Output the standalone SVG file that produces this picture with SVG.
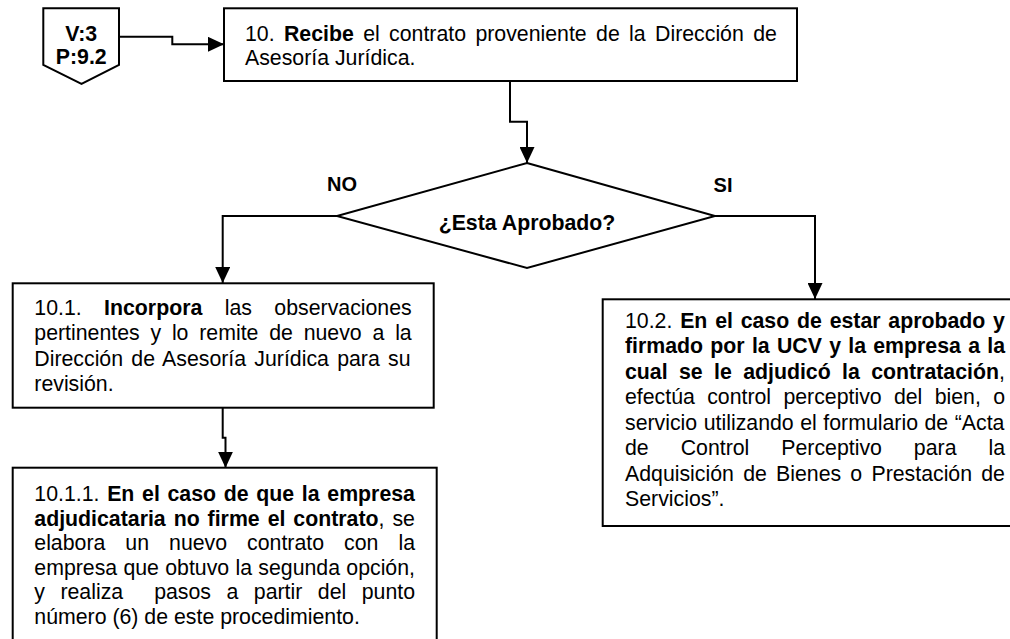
<svg xmlns="http://www.w3.org/2000/svg" width="1010" height="639" viewBox="0 0 1010 639">
<defs>
<marker id="arr" markerUnits="userSpaceOnUse" markerWidth="16" markerHeight="15" refX="16" refY="7.5" orient="auto">
<path d="M0,0 L16,7.5 L0,15 z" fill="#000"/>
</marker>
<style>
.box{fill:#fff;stroke:#000;stroke-width:2}
.con{fill:none;stroke:#000;stroke-width:2;marker-end:url(#arr)}
.t{font-family:"Liberation Sans",Arial,sans-serif;font-size:21.3px;fill:#000}
.b{font-weight:bold}
.lbl{font-family:"Liberation Sans",Arial,sans-serif;font-size:20px;font-weight:bold;fill:#000;text-anchor:middle}
</style>
</defs>
<rect width="1010" height="639" fill="#fff"/>

<g id="connectors">
<path class="con" d="M119,36.7 H172.3 V44.3 H224"/>
<path class="con" d="M510,81 V121.7 H527 V163"/>
<path class="con" d="M337,216 H222.7 V283"/>
<path class="con" d="M715,216 H815 V299"/>
<path class="con" d="M222.7,408 V437.7 H225.5 V467.7"/>
</g>

<g id="ref-v3">
<polygon class="box" points="43.3,8.3 119,8.3 119,65 81.5,84 43.3,65"/>
<text class="t b" x="81.2" y="40.7" text-anchor="middle" font-size="21">V:3</text>
<text class="t b" x="81.2" y="64.3" text-anchor="middle" font-size="21">P:9.2</text>
</g>

<g id="n10">
<rect class="box" x="224" y="8.3" width="573" height="72.7"/>
<text class="t" x="245" y="41" word-spacing="3.44">10. <tspan class="b">Recibe</tspan> el contrato proveniente de la Dirección de</text>
<text class="t" x="245" y="65">Asesoría Jurídica.</text>
</g>

<g id="decision">
<polygon class="box" points="527,163 715,216 527,268 337,216"/>
<text class="t b" x="527" y="229.5" text-anchor="middle" font-size="21">¿Esta Aprobado?</text>
<text class="lbl" x="342" y="191">NO</text>
<text class="lbl" x="723" y="192">SI</text>
</g>

<g id="n10_1">
<rect class="box" x="12.7" y="283.3" width="421" height="124.4"/>
<text class="t" x="34.3" y="315" word-spacing="16.5">10.1. <tspan class="b">Incorpora</tspan> las observaciones</text>
<text class="t" x="34.3" y="340.3" word-spacing="4.87">pertinentes y lo remite de nuevo a la</text>
<text class="t" x="34.3" y="365.6" word-spacing="2.32">Dirección de Asesoría Jurídica para su</text>
<text class="t" x="34.3" y="391">revisión.</text>
</g>

<g id="n10_1_1">
<rect class="box" x="12.7" y="467.7" width="424" height="200"/>
<text class="t" x="34.3" y="501" word-spacing="1.78">10.1.1. <tspan class="b">En el caso de que la empresa</tspan></text>
<text class="t" x="34.3" y="525.5" word-spacing="2.04"><tspan class="b">adjudicataria no firme el contrato</tspan>, se</text>
<text class="t" x="34.3" y="550" word-spacing="14.1">elabora un nuevo contrato con la</text>
<text class="t" x="34.3" y="574.5" word-spacing="0.36">empresa que obtuvo la segunda opción,</text>
<text class="t" x="34.3" y="599" word-spacing="9.57" xml:space="preserve">y realiza  pasos a partir del punto</text>
<text class="t" x="34.3" y="623.5">número (6) de este procedimiento.</text>
</g>

<g id="n10_2">
<rect class="box" x="602.7" y="299.3" width="430" height="226.7"/>
<text class="t" x="625" y="327.5" word-spacing="1.86">10.2. <tspan class="b">En el caso de estar aprobado y</tspan></text>
<text class="t b" x="625" y="353" word-spacing="1.34">firmado por la UCV y la empresa a la</text>
<text class="t" x="625" y="378.5" word-spacing="5.44"><tspan class="b">cual se le adjudicó la contratación</tspan>,</text>
<text class="t" x="625" y="404" word-spacing="6.38">efectúa control perceptivo del bien, o</text>
<text class="t" x="625" y="429.5" word-spacing="0.6">servicio utilizando el formulario de “Acta</text>
<text class="t" x="625" y="455" word-spacing="26.05">de Control Perceptivo para la</text>
<text class="t" x="625" y="480.5" word-spacing="3.3">Adquisición de Bienes o Prestación de</text>
<text class="t" x="625" y="506">Servicios”.</text>
</g>
</svg>
